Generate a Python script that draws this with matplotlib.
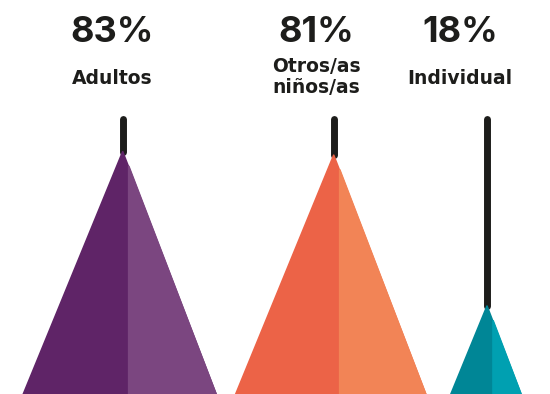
import matplotlib.pyplot as plt
import numpy as np

# shares shown above each peak
categories = ['Adultos', 'Otros/as\nniños/as', 'Individual']
shares = [83, 81, 18]
dark_colors = ['#5f2467', '#ec6347', '#008696']
light_colors = ['#7b4680', '#f28456', '#00a0b1']

# layout, in pixels of the 550x394 canvas
peak_x = [122.7, 333.7, 487.0]
label_x = [112, 316, 460]
base_y = 440.6          # where the (cropped) base of the triangles sits
scale = 31.71           # height = scale * sqrt(share), so area follows the share
stick_top = 118.5
left_slope, right_slope = 0.41, 0.385
ridge_shift = 5.5

fig = plt.figure(figsize=(5.5, 3.94), dpi=100)
ax = fig.add_axes([0, 0, 1, 1])
ax.set_xlim(0, 550)
ax.set_ylim(base_y - 394, base_y)
ax.axis('off')

for cx, v, dc, lc in zip(peak_x, shares, dark_colors, light_colors):
    h = scale * np.sqrt(v)
    xl = cx - left_slope * h
    xr = cx + right_slope * h
    # stick
    ax.plot([cx, cx], [h, base_y - stick_top], color='#1d1d1b', lw=5,
            solid_capstyle='round', zorder=1)
    # dark face (whole triangle)
    ax.fill([xl, cx, xr], [0, h, 0], color=dc, lw=1.2, ec=dc,
            joinstyle='round', zorder=2)
    # light right face, stroked so it covers the dark outline
    xs = cx + ridge_shift
    ys = h - ridge_shift / right_slope
    ax.fill([xs + 0.5, xr, xs + 0.5], [ys, 0, 0], color=lc, lw=1.2, ec=lc,
            zorder=3)

num_font = ['Inter', 'DejaVu Sans']
for lx, v, name in zip(label_x, shares, categories):
    fig.text(lx / 550, 1 - 42 / 394, f'{v}%', ha='center', va='baseline',
             fontsize=26, fontweight='bold', family=num_font, color='#1d1d1b')
    fig.text(lx / 550, 1 - (93 if '\n' in name else 84) / 394, name,
             ha='center', va='baseline', fontsize=13.5, fontweight='bold',
             family='DejaVu Sans', color='#1d1d1b', linespacing=1.1)

fig.savefig('out.png', dpi=100, facecolor='white')
